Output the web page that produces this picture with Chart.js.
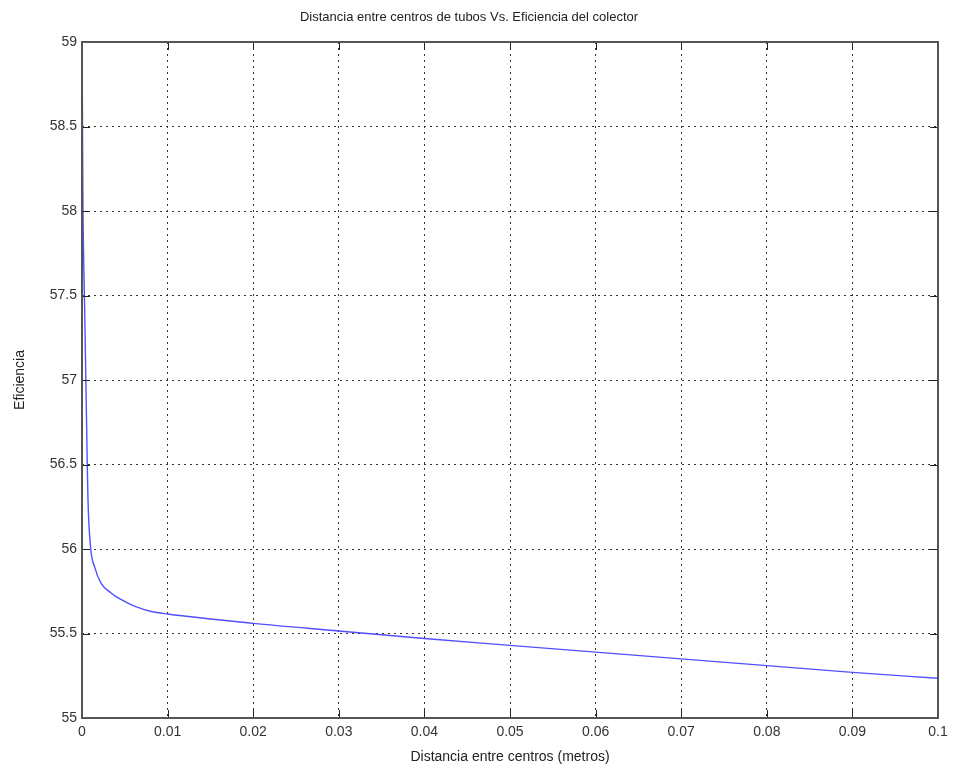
<!DOCTYPE html>
<html>
<head>
<meta charset="utf-8">
<script src="https://cdn.jsdelivr.net/npm/chart.js@4"></script>
<style>
  body { margin: 0; background: #fff; }
  #wrap { width: 958px; height: 772px; }
</style>
</head>
<body>
<div id="wrap"><canvas id="myChart" width="958" height="772"></canvas></div>
<script>
// distancia entre centros (m) y eficiencia
var distancia = [0, 0.00005, 0.0001, 0.0002, 0.0003, 0.00045, 0.0006, 0.0007, 0.001, 0.0015, 0.0022, 0.0034, 0.0046, 0.0062, 0.0081, 0.01, 0.02, 0.03, 0.04, 0.05, 0.06, 0.07, 0.08, 0.09, 0.1];
var eficiencia = [59, 58.6, 58.1, 57.7, 57.45, 57.0, 56.55, 56.29, 56.01, 55.89, 55.8, 55.74, 55.7, 55.66, 55.63, 55.615, 55.56, 55.515, 55.47, 55.43, 55.39, 55.35, 55.31, 55.27, 55.235];

var xTicks = [0, 0.01, 0.02, 0.03, 0.04, 0.05, 0.06, 0.07, 0.08, 0.09, 0.1];
var yTicks = [55, 55.5, 56, 56.5, 57, 57.5, 58, 58.5, 59];

var puntos = [];
for (var i = 0; i < distancia.length; i++) {
  puntos.push({ x: distancia[i], y: eficiencia[i] });
}

var fuente = "'Liberation Sans', Arial, sans-serif";

// marcas hacia adentro como en matlab
var marcasInternas = {
  id: "marcasInternas",
  afterDatasetsDraw: function (chart) {
    var c = chart.ctx, a = chart.chartArea;
    var sx = chart.scales.x, sy = chart.scales.y;
    c.save();
    c.strokeStyle = "#222";
    c.lineWidth = 1;
    c.beginPath();
    xTicks.forEach(function (v) {
      var px = Math.round(sx.getPixelForValue(v)) + 0.5;
      c.moveTo(px, a.bottom); c.lineTo(px, a.bottom - 8);
      c.moveTo(px, a.top); c.lineTo(px, a.top + 8);
    });
    yTicks.forEach(function (v) {
      var py = Math.round(sy.getPixelForValue(v)) + 0.5;
      c.moveTo(a.left, py); c.lineTo(a.left + 8, py);
      c.moveTo(a.right, py); c.lineTo(a.right - 8, py);
    });
    c.stroke();
    c.strokeStyle = "#555";
    c.lineWidth = 2;
    c.strokeRect(a.left, a.top, a.right - a.left, a.bottom - a.top);
    c.restore();
  }
};

var ctx = document.getElementById("myChart").getContext("2d");
var myChart = new Chart(ctx, {
  type: "scatter",
  data: {
    datasets: [
      {
        label: "Eficiencia",
        data: puntos,
        showLine: true,
        borderColor: "rgb(80, 80, 255)",
        borderWidth: 1.4,
        pointRadius: 0,
        cubicInterpolationMode: "monotone",
      },
    ],
  },
  options: {
    responsive: false,
    animation: false,
    layout: { padding: { left: 0, right: 20, top: 0, bottom: 0 } },
    plugins: {
      legend: { display: false },
      tooltip: { enabled: false },
      title: {
        display: true,
        text: "Distancia entre centros de tubos Vs. Eficiencia del colector",
        color: "#222",
        font: { family: fuente, size: 13, weight: "normal" },
        padding: { top: 10, bottom: 16.4 },
      },
    },
    scales: {
      x: {
        type: "linear",
        min: 0,
        max: 0.1,
        afterBuildTicks: function (s) { s.ticks = xTicks.map(function (v) { return { value: v }; }); },
        afterFit: function (s) { s.height = 54; },
        grid: { color: "#333", lineWidth: 1, drawTicks: false, tickLength: 0 },
        border: { display: false, dash: [2, 4] },
        ticks: {
          color: "#333",
          padding: 6,
          maxRotation: 0,
          font: { family: fuente, size: 14 },
          callback: function (v) { return String(Math.round(v * 100) / 100); },
        },
        title: {
          display: true,
          text: "Distancia entre centros (metros)",
          color: "#222",
          font: { family: fuente, size: 14 },
          padding: { top: 2, bottom: 6 },
        },
      },
      y: {
        min: 55,
        max: 59,
        afterBuildTicks: function (s) { s.ticks = yTicks.map(function (v) { return { value: v }; }); },
        afterFit: function (s) { s.width = 82; },
        grid: { color: "#333", lineWidth: 1, drawTicks: false, tickLength: 0 },
        border: { display: false, dash: [2, 4] },
        ticks: {
          color: "#333",
          padding: 5,
          font: { family: fuente, size: 14 },
          callback: function (v) { return String(v); },
        },
        title: {
          display: true,
          text: "Eficiencia",
          color: "#222",
          font: { family: fuente, size: 14 },
          padding: { top: 12, bottom: 4 },
        },
      },
    },
  },
  plugins: [marcasInternas],
});
</script>
</body>
</html>
